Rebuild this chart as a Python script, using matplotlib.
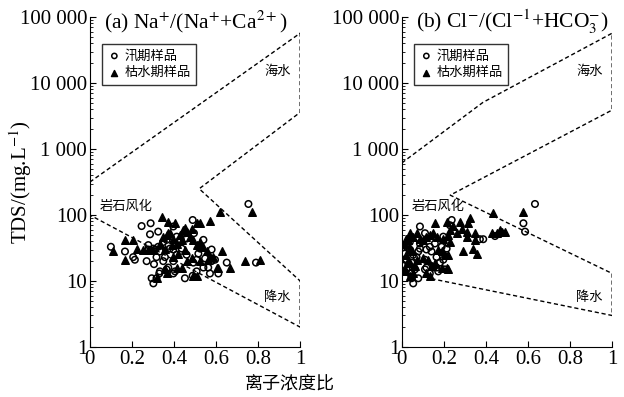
import numpy as np
import matplotlib.pyplot as plt
from matplotlib.ticker import FixedLocator, LogLocator, NullFormatter

plt.rcParams['font.family'] = ['Liberation Serif', 'Noto Sans CJK SC']
plt.rcParams['mathtext.fontset'] = 'stix'

# (a) Na/(Na+Ca) - flood season samples (open circles)
na_flood_x = [0.10, 0.167, 0.206, 0.214, 0.27, 0.246, 0.289, 0.286, 0.278, 0.302, 0.333, 0.325,
              0.305, 0.317, 0.325, 0.349, 0.365, 0.381, 0.397, 0.357, 0.373, 0.397, 0.333, 0.330,
              0.302, 0.317, 0.365, 0.405, 0.397, 0.452, 0.489, 0.508, 0.492, 0.489, 0.495, 0.54,
              0.524, 0.548, 0.563, 0.571, 0.579, 0.54, 0.508, 0.46, 0.437, 0.429, 0.413, 0.397,
              0.611, 0.651, 0.754, 0.79, 0.46, 0.452, 0.524, 0.579, 0.595, 0.516, 0.349, 0.294,
              0.31, 0.278, 0.413]
na_flood_y = [33, 28, 23, 21, 20, 68, 75, 51, 35, 31, 28, 33,
              18, 23, 56, 39, 42, 31, 30, 23, 16, 20, 14, 13,
              9.2, 11, 15, 14, 13, 11, 12, 14, 19, 84, 53, 42,
              35, 22, 16, 13, 20, 16, 21, 25, 31, 42, 47, 67,
              13, 19, 147, 19, 44, 53, 31, 30, 21, 26, 20, 11,
              30, 30, 25]

# (a) dry season samples (filled triangles)
na_dry_x = [0.111, 0.167, 0.167, 0.206, 0.222, 0.254, 0.278, 0.341, 0.373, 0.405, 0.333, 0.349,
            0.365, 0.381, 0.397, 0.373, 0.389, 0.413, 0.429, 0.444, 0.452, 0.46, 0.476, 0.484,
            0.508, 0.524, 0.492, 0.508, 0.524, 0.54, 0.556, 0.571, 0.587, 0.603, 0.611, 0.571,
            0.619, 0.627, 0.667, 0.738, 0.77, 0.81, 0.357, 0.365, 0.413, 0.437, 0.492, 0.317,
            0.46, 0.484, 0.524, 0.563, 0.421, 0.452, 0.437, 0.508, 0.397, 0.357, 0.302]
na_dry_y = [28, 42, 21, 42, 31, 30, 29, 92, 79, 75, 37, 47,
            50, 54, 44, 53, 35, 37, 50, 59, 63, 56, 47, 61,
            75, 75, 42, 35, 39, 33, 28, 23, 23, 16, 16, 81,
            112, 28, 16, 20, 112, 21, 15, 13, 16, 16, 12, 11,
            20, 22, 20, 21, 26, 30, 42, 12, 23, 31, 30]

# (b) Cl/(Cl+HCO3) - flood season samples
cl_flood_x = [0.633, 0.578, 0.586, 0.443, 0.387, 0.371, 0.086, 0.11, 0.038, 0.022, 0.014, 0.022,
              0.03, 0.038, 0.046, 0.054, 0.078, 0.07, 0.086, 0.117, 0.133, 0.157, 0.165, 0.141,
              0.11, 0.117, 0.11, 0.133, 0.149, 0.181, 0.197, 0.205, 0.213, 0.221, 0.229, 0.237,
              0.197, 0.189, 0.165, 0.173, 0.038, 0.054, 0.022, 0.006, 0.046, 0.062, 0.078, 0.086]
cl_flood_y = [147, 75, 56, 48, 43, 43, 67, 53, 39, 33, 26, 21,
              16, 13, 11, 9.2, 11, 23, 37, 30, 33, 37, 23, 28,
              21, 16, 15, 13, 16, 19, 21, 15, 31, 37, 70, 84,
              47, 33, 16, 14, 30, 25, 15, 17, 19, 15, 28, 31]

# (b) dry season samples
cl_dry_x = [0.435, 0.578, 0.467, 0.427, 0.348, 0.308, 0.284, 0.229, 0.244, 0.213, 0.276, 0.316,
            0.324, 0.157, 0.292, 0.356, 0.34, 0.308, 0.26, 0.221, 0.197, 0.165, 0.149, 0.133,
            0.117, 0.038, 0.054, 0.03, 0.022, 0.014, 0.038, 0.046, 0.022, 0.03, 0.038, 0.022,
            0.014, 0.038, 0.054, 0.062, 0.07, 0.102, 0.125, 0.141, 0.157, 0.189, 0.213, 0.221,
            0.117, 0.133, 0.189, 0.205, 0.221, 0.173, 0.102, 0.086, 0.07, 0.229, 0.451, 0.475,
            0.49, 0.348]
cl_dry_y = [108, 112, 59, 53, 53, 56, 61, 59, 67, 79, 79, 77,
            89, 75, 28, 26, 31, 47, 53, 50, 44, 47, 53, 50,
            47, 53, 47, 42, 44, 37, 31, 28, 25, 20, 19, 14,
            14, 12, 13, 17, 21, 22, 21, 17, 19, 16, 16, 15,
            13, 12, 28, 25, 25, 30, 42, 44, 53, 39, 53, 56,
            56, 42]

# Gibbs boundary lines
na_bound_x = [0, 1, 1, 0.52, 1, 1, 0]
na_bound_y = [316, 57000, 3600, 250, 10, 2, 100]
cl_bound_x = [0, 0.386, 1, 1, 0.23, 1, 1, 0.13]
cl_bound_y = [616, 5100, 57000, 3900, 200, 13, 3, 11]

yticks = [1, 10, 100, 1000, 10000, 100000]
ylabels = ['1', '10', '100', '1 000', '10 000', '100 000']
xticks = [0, 0.2, 0.4, 0.6, 0.8, 1]
xlabels = ['0', '0.2', '0.4', '0.6', '0.8', '1']

fig = plt.figure(figsize=(6.24, 3.97), dpi=100)
ax1 = fig.add_axes([0.144, 0.126, 0.337, 0.831])
ax2 = fig.add_axes([0.644, 0.126, 0.337, 0.831])

panels = [
    (ax1, na_flood_x, na_flood_y, na_dry_x, na_dry_y, na_bound_x, na_bound_y,
     r'(a) Na$^{+}$/(Na$^{+}$+Ca$^{2+}$)'),
    (ax2, cl_flood_x, cl_flood_y, cl_dry_x, cl_dry_y, cl_bound_x, cl_bound_y,
     r'(b) Cl$^{-}$/(Cl$^{-1}$+HCO$_3^{-}$)'),
]

for ax, fx, fy, dx, dy, bx, by, title in panels:
    ax.plot(bx, by, ls=(0, (3, 2)), color='black', lw=1.0)
    ax.scatter(fx, fy, marker='o', facecolors='none', edgecolors='black', s=22, lw=1.1,
               label='汛期样品', zorder=3)
    ax.scatter(dx, dy, marker='^', color='black', s=30, label='枯水期样品', zorder=3)
    ax.set_yscale('log')
    ax.set_xlim(0, 1)
    ax.set_ylim(1, 100000)
    ax.spines['top'].set_visible(False)
    ax.spines['right'].set_visible(False)
    ax.yaxis.set_major_locator(FixedLocator(yticks))
    ax.set_yticklabels(ylabels)
    ax.yaxis.set_minor_locator(LogLocator(base=10, subs=np.arange(2, 10)))
    ax.yaxis.set_minor_formatter(NullFormatter())
    ax.set_xticks(xticks)
    ax.set_xticklabels(xlabels)
    ax.tick_params(direction='in', labelsize=15, length=4, width=0.8, pad=2)
    ax.tick_params(which='minor', direction='in', length=2, width=0.6)
    ax.text(0.065, 0.985, title, transform=ax.transAxes, fontsize=15.5, va='center', ha='left')
    leg = ax.legend(loc='upper left', bbox_to_anchor=(0.06, 0.918), borderaxespad=0,
                    frameon=True, fancybox=False, edgecolor='black', handletextpad=0.3,
                    borderpad=0.4, labelspacing=0.3, handlelength=1.0, markerscale=0.8,
                    prop={'family': ['Noto Sans CJK SC'], 'size': 9.5})
    leg.get_frame().set_linewidth(1.0)
    ax.text(0.045, 0.425, '岩石风化', transform=ax.transAxes, fontsize=9.5,
            family=['Noto Sans CJK SC'], ha='left', va='center')
    ax.text(0.955, 0.835, '海水', transform=ax.transAxes, fontsize=9.5,
            family=['Noto Sans CJK SC'], ha='right', va='center')
    ax.text(0.955, 0.15, '降水', transform=ax.transAxes, fontsize=9.5,
            family=['Noto Sans CJK SC'], ha='right', va='center')

ax1.set_ylabel(r'TDS/(mg.L$^{-1}$)', fontsize=15)
ax1.yaxis.set_label_coords(-0.265, 0.5)
fig.text(0.465, 0.035, '离子浓度比', fontsize=13, family=['Noto Sans CJK SC'],
         ha='center', va='center')

fig.savefig('out.png', dpi=100)
